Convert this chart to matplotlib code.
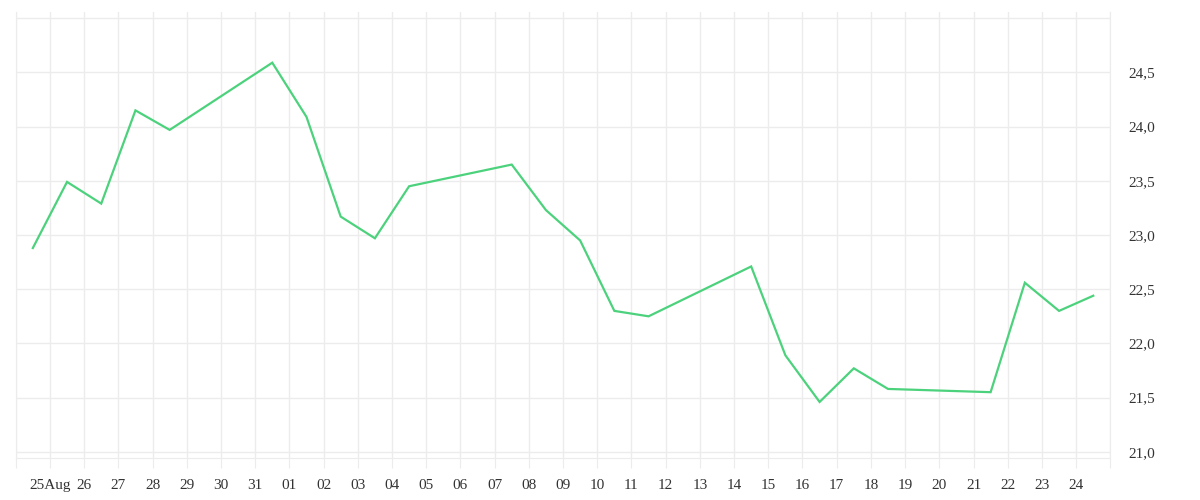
import datetime as dt
import matplotlib
matplotlib.use("Agg")
import matplotlib.pyplot as plt

## Donnees (un point par jour ouvre, a midi)
jours = ["2020-08-24", "2020-08-25", "2020-08-26", "2020-08-27", "2020-08-28",
         "2020-08-31", "2020-09-01", "2020-09-02", "2020-09-03", "2020-09-04",
         "2020-09-07", "2020-09-08", "2020-09-09", "2020-09-10", "2020-09-11",
         "2020-09-14", "2020-09-15", "2020-09-16", "2020-09-17", "2020-09-18",
         "2020-09-21", "2020-09-22", "2020-09-23", "2020-09-24"]
valeurs = [22.88, 23.49, 23.29, 24.15, 23.97,
           24.59, 24.09, 23.17, 22.97, 23.45,
           23.65, 23.23, 22.95, 22.30, 22.25,
           22.71, 21.89, 21.46, 21.77, 21.58,
           21.55, 22.56, 22.30, 22.44]
y_ticks = [21.0, 21.5, 22.0, 22.5, 23.0, 23.5, 24.0, 24.5, 25.0]
y_labels = ["21,0", "21,5", "22,0", "22,5", "23,0", "23,5", "24,0", "24,5", ""]

dates = [dt.datetime.strptime(j, "%Y-%m-%d") + dt.timedelta(hours=12) for j in jours]

## Figure
plt.rcParams['font.family'] = ['Liberation Serif', 'DejaVu Serif']
fig = plt.figure(figsize=(12, 5), dpi=100)
ax = fig.add_axes([0.0131, 0.0834, 0.9122, 0.892])

ax.plot(dates, valeurs, color="#4cd27c", linewidth=1.6, solid_joinstyle="miter")

# axe x : un tick par jour, bords sans etiquette
debut = dt.datetime(2020, 8, 24)
fin = dt.datetime(2020, 9, 25)
ticks_x = [debut + dt.timedelta(days=i) for i in range(33)]
labels_x = []
for t in ticks_x:
    if t == debut or t == fin:
        labels_x.append("")
    elif t.day == 25 and t.month == 8:
        labels_x.append("25Aug")
    else:
        labels_x.append(t.strftime("%d"))
ax.set_xticks(ticks_x)
ax.set_xticklabels(labels_x)
ax.set_xlim(debut, fin)

ax.set_yticks(y_ticks)
ax.set_yticklabels(y_labels)
ax.set_ylim(20.94, 25.055)
ax.yaxis.tick_right()

grille = "#ececec"
ax.grid(True, color=grille, linewidth=1)
ax.set_axisbelow(True)
for cote in ["left", "right", "bottom"]:
    ax.spines[cote].set_color(grille)
ax.spines["top"].set_visible(False)

ax.tick_params(axis="x", length=7, color=grille, pad=8, labelsize=11, labelcolor="#333333")
ax.tick_params(axis="y", length=0, pad=13, labelsize=11, labelcolor="#333333")

fig.savefig("out.png", dpi=100)
